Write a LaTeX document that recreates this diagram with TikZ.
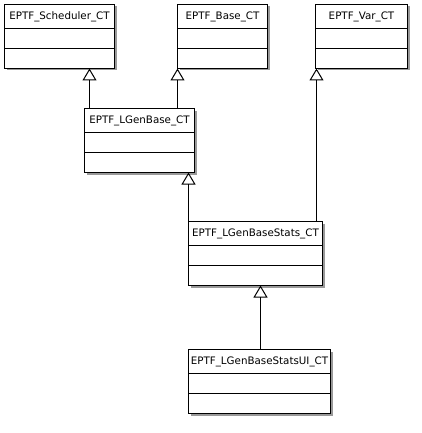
\documentclass[tikz,border=0pt]{standalone}
\usepackage{fontspec}
\usepackage{tikz}
\usetikzlibrary{arrows.meta,positioning,shadows}
\newfontfamily\umlfont{DejaVu Sans}

\begin{document}
\begin{tikzpicture}[x=1pt, y=-1pt,
        cls/.style={rectangle, draw=black, fill=white, line width=1pt,
                    inner sep=0pt, outer sep=0pt, minimum height=24pt,
                    font=\umlfont\fontsize{10.3}{12}\selectfont,
                    drop shadow={shadow xshift=2pt, shadow yshift=-2pt,
                                 fill=black!40, opacity=1}},
        cmp/.style={cls, minimum height=20pt},
        gen/.style={-{Triangle[open, width=14pt, length=12pt]}, line width=1pt}]
        \useasboundingbox (0,0) rectangle (422,433);
        % top row
        \node[cls, minimum width=110pt, anchor=north west] (schedN) at (4.5,4.5) {EPTF\_Scheduler\_CT};
        \node[cmp, minimum width=110pt, below=0pt of schedN] (schedA) {};
        \node[cmp, minimum width=110pt, below=0pt of schedA] (schedO) {};
        \node[cls, minimum width=90pt, anchor=north west]  (baseN)  at (177.5,4.5) {EPTF\_Base\_CT};
        \node[cmp, minimum width=90pt, below=0pt of baseN]   (baseA)  {};
        \node[cmp, minimum width=90pt, below=0pt of baseA]   (baseO)  {};
        \node[cls, minimum width=92pt, anchor=north west]  (varN)   at (315.5,4.5) {EPTF\_Var\_CT};
        \node[cmp, minimum width=92pt, below=0pt of varN]    (varA)   {};
        \node[cmp, minimum width=92pt, below=0pt of varA]    (varO)   {};
        % derived classes
        \node[cls, minimum width=110pt, anchor=north west] (lgenN)  at (84.5,108.5) {EPTF\_LGenBase\_CT};
        \node[cmp, minimum width=110pt, below=0pt of lgenN]  (lgenA)  {};
        \node[cmp, minimum width=110pt, below=0pt of lgenA]  (lgenO)  {};
        \node[cls, minimum width=134pt, anchor=north west] (statsN) at (188.5,221.5) {EPTF\_LGenBaseStats\_CT};
        \node[cmp, minimum width=134pt, below=0pt of statsN] (statsA) {};
        \node[cmp, minimum width=134pt, below=0pt of statsA] (statsO) {};
        \node[cls, minimum width=142pt, anchor=north west] (uiN)    at (188.5,349.5) {EPTF\_LGenBaseStatsUI\_CT};
        \node[cmp, minimum width=142pt, below=0pt of uiN]    (uiA)    {};
        \node[cmp, minimum width=142pt, below=0pt of uiA]    (uiO)    {};
        % generalisations
        \draw[gen] ([xshift=5pt]lgenN.north west) -- ([xshift=5pt]lgenN.north west |- schedO.south);
        \draw[gen] (baseO.south west |- lgenN.north) -- (baseO.south west);
        \draw[gen] ([xshift=1pt]varO.south west |- statsN.north) -- ([xshift=1pt]varO.south west);
        \draw[gen] (statsN.north west) -- (statsN.north west |- lgenO.south);
        \draw[gen] ([xshift=1pt]uiN.north) -- ([xshift=1pt]uiN.north |- statsO.south);
    \end{tikzpicture}
\end{document}
